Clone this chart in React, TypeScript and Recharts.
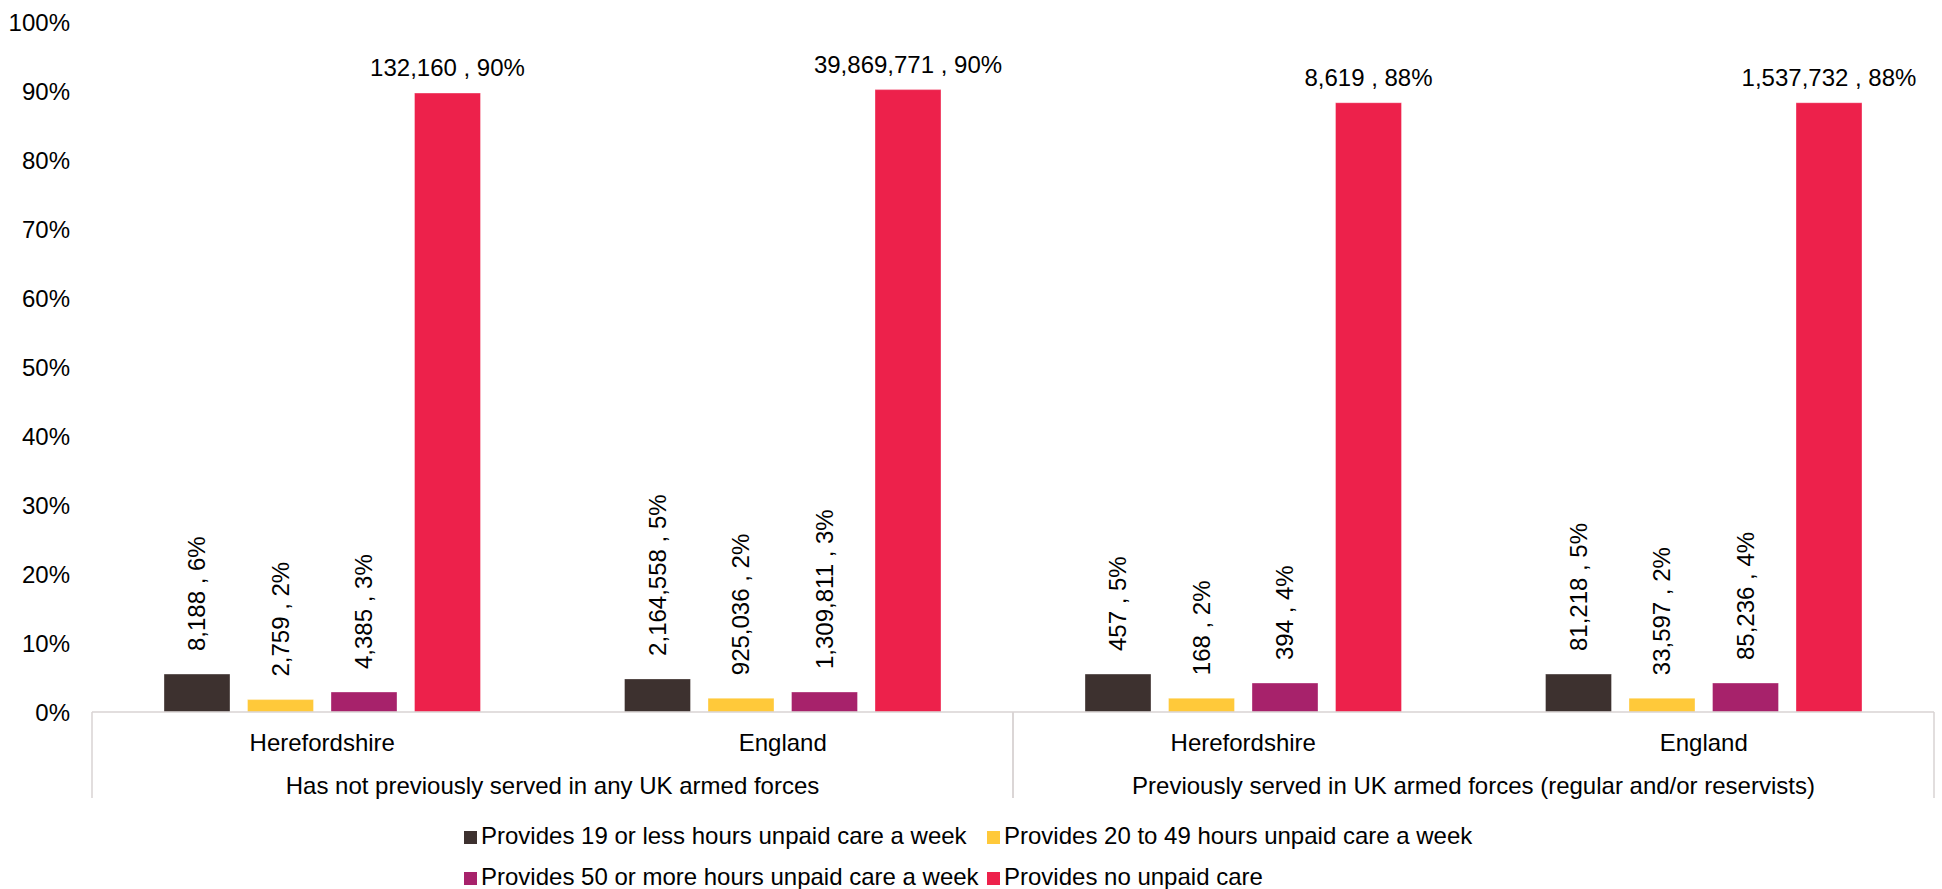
import React from 'react';
import { BarChart, Bar, XAxis, YAxis, Legend, LabelList } from 'recharts';

const FONT = '"Liberation Sans", Arial, sans-serif';
const FS = 24;

// Categories (two-level axis)
const categories = ['Herefordshire', 'England', 'Herefordshire', 'England'];
const groups = [
  'Has not previously served in any UK armed forces',
  'Has not previously served in any UK armed forces',
  'Previously served in UK armed forces (regular and/or reservists)',
  'Previously served in UK armed forces (regular and/or reservists)',
];

// Series names
const seriesNames = [
  'Provides 19 or less hours unpaid care a week',
  'Provides 20 to 49 hours unpaid care a week',
  'Provides 50 or more hours unpaid care a week',
  'Provides no unpaid care',
];
const seriesColors = ['#3D312F', '#FFC93A', '#A7226B', '#ED214B'];

// Bar heights (percent of population)
const lowPct = [5.5, 4.8, 5.5, 5.5];
const midPct = [1.8, 2.0, 2.0, 2.0];
const highPct = [2.9, 2.9, 4.2, 4.2];
const nonePct = [89.7, 90.2, 88.3, 88.3];

// Counts shown in labels
const lowCounts = ['8,188', '2,164,558', '457', '81,218'];
const midCounts = ['2,759', '925,036', '168', '33,597'];
const highCounts = ['4,385', '1,309,811', '394', '85,236'];
const noneCounts = ['132,160', '39,869,771', '8,619', '1,537,732'];

// Rounded percentages shown in labels
const lowShown = [6, 5, 5, 5];
const midShown = [2, 2, 2, 2];
const highShown = [3, 3, 4, 4];
const noneShown = [90, 90, 88, 88];

// Y axis ticks
const yTicks = [0, 10, 20, 30, 40, 50, 60, 70, 80, 90, 100];

const data = categories.map((c, i) => ({
  category: c,
  group: groups[i],
  low: lowPct[i],
  mid: midPct[i],
  high: highPct[i],
  none: nonePct[i],
  lowLabel: `${lowCounts[i]} , ${lowShown[i]}%`,
  midLabel: `${midCounts[i]} , ${midShown[i]}%`,
  highLabel: `${highCounts[i]} , ${highShown[i]}%`,
  noneLabel: `${noneCounts[i]} , ${noneShown[i]}%`,
}));

const LINE = '#D8D3D3';

const VerticalLabel = (props: any) => {
  const { x, y, width, value } = props;
  const cx = Number(x) + Number(width) / 2;
  const cy = Number(y) - 23;
  return (
    <text
      x={cx}
      y={cy}
      transform={`rotate(-90, ${cx}, ${cy})`}
      textAnchor="start"
      dy="0.35em"
      fontSize={FS}
      fontFamily={FONT}
      fill="#000"
    >
      {value}
    </text>
  );
};

const TopLabel = (props: any) => {
  const { x, y, width, value } = props;
  const cx = Number(x) + Number(width) / 2;
  return (
    <text x={cx} y={Number(y) - 17} textAnchor="middle" fontSize={FS} fontFamily={FONT} fill="#000">
      {value}
    </text>
  );
};

const CategoryTick = (props: any) => {
  const { x, y, payload, index, width, visibleTicksCount } = props;
  const n = visibleTicksCount || categories.length;
  const half =
    payload && typeof payload.offset === 'number' && payload.offset > 0
      ? payload.offset
      : Number(width) / n / 2;
  const group = groups[index];
  const first = index === 0 || groups[index - 1] !== group;
  const last = index === groups.length - 1 || groups[index + 1] !== group;
  const count = groups.filter((g) => g === group).length;
  const groupCenter = x - half + count * half;
  return (
    <g>
      <text x={x} y={y} dy="0.71em" textAnchor="middle" fontSize={FS} fontFamily={FONT} fill="#000">
        {payload.value}
      </text>
      {first && (
        <line x1={x - half} x2={x - half} y1={y - 22} y2={y + 64} stroke={LINE} strokeWidth={1.5} />
      )}
      {last && (
        <line x1={x + half} x2={x + half} y1={y - 22} y2={y + 64} stroke={LINE} strokeWidth={1.5} />
      )}
      {first && (
        <text x={groupCenter} y={y + 43} dy="0.71em" textAnchor="middle" fontSize={FS} fontFamily={FONT} fill="#000">
          {group}
        </text>
      )}
    </g>
  );
};

const LegendContent = (props: any) => {
  const payload = props.payload && props.payload.length ? props.payload : seriesNames.map((n, i) => ({ value: n, color: seriesColors[i] }));
  return (
    <div
      style={{
        width: 1942,
        paddingLeft: 464,
        boxSizing: 'border-box',
        display: 'grid',
        gridTemplateColumns: '523px auto',
        fontFamily: FONT,
        fontSize: FS,
        lineHeight: '41px',
        color: '#000',
        textAlign: 'left',
      }}
    >
      {payload.map((p: any, i: number) => (
        <div key={i} style={{ whiteSpace: 'nowrap' }}>
          <span
            style={{
              display: 'inline-block',
              width: 13,
              height: 13,
              background: p.color,
              marginRight: 4,
            }}
          />
          {p.value}
        </div>
      ))}
    </div>
  );
};

export default function App() {
  return (
    <div style={{ position: 'absolute', left: 0, top: 0, width: 1942, height: 889, background: '#fff' }}>
      <BarChart
        width={1942}
        height={889}
        data={data}
        margin={{ top: 22, right: 8, left: 0, bottom: 0 }}
        barGap={17.5}
      >
        <XAxis
          dataKey="category"
          height={177}
          interval={0}
          tickLine={false}
          tickMargin={16}
          axisLine={{ stroke: LINE, strokeWidth: 1.5 }}
          tick={<CategoryTick />}
        />
        <YAxis
          width={92}
          domain={[0, 100]}
          ticks={yTicks}
          axisLine={false}
          tickLine={false}
          tickMargin={16}
          tickFormatter={(v: number) => `${v}%`}
          tick={{ fontSize: FS, fontFamily: FONT, fill: '#000' }}
          interval={0}
        />
        <Legend
          layout="horizontal"
          verticalAlign="middle"
          align="center"
          wrapperStyle={{ top: 815, left: 0, width: 1942 }}
          content={<LegendContent />}
        />
        <Bar dataKey="low" name={seriesNames[0]} fill={seriesColors[0]} barSize={66} isAnimationActive={false} stroke="#ffffff" strokeOpacity={0.35}>
          <LabelList dataKey="lowLabel" content={<VerticalLabel />} />
        </Bar>
        <Bar dataKey="mid" name={seriesNames[1]} fill={seriesColors[1]} barSize={66} isAnimationActive={false} stroke="#ffffff" strokeOpacity={0.35}>
          <LabelList dataKey="midLabel" content={<VerticalLabel />} />
        </Bar>
        <Bar dataKey="high" name={seriesNames[2]} fill={seriesColors[2]} barSize={66} isAnimationActive={false} stroke="#ffffff" strokeOpacity={0.35}>
          <LabelList dataKey="highLabel" content={<VerticalLabel />} />
        </Bar>
        <Bar dataKey="none" name={seriesNames[3]} fill={seriesColors[3]} barSize={66} isAnimationActive={false} stroke="#ffffff" strokeOpacity={0.35}>
          <LabelList dataKey="noneLabel" content={<TopLabel />} />
        </Bar>
      </BarChart>
    </div>
  );
}
